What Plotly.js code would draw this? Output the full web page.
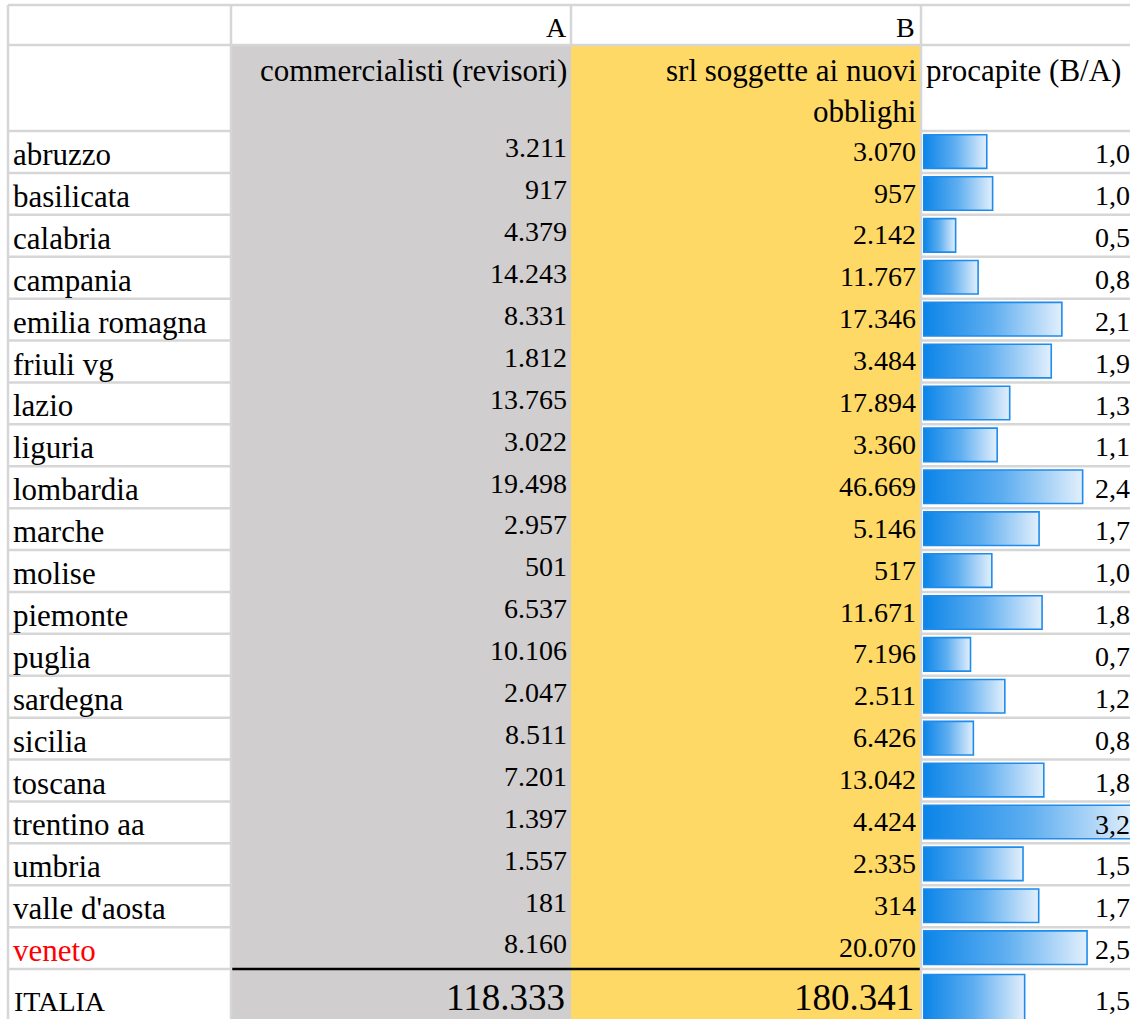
<!DOCTYPE html>
<html><head><meta charset="utf-8">
<script src="https://cdn.plot.ly/plotly-3.0.1.min.js"></script>
<style>html,body{margin:0;padding:0;background:#fff;overflow:hidden}#chart{width:1130px;height:1019px}</style>
</head><body><div id="chart"></div>
<script>
// ---- data ----
const regions = ['abruzzo','basilicata','calabria','campania','emilia romagna','friuli vg','lazio','liguria','lombardia','marche','molise','piemonte','puglia','sardegna','sicilia','toscana','trentino aa','umbria',"valle d'aosta",'veneto'];
const commercialisti = [3211,917,4379,14243,8331,1812,13765,3022,19498,2957,501,6537,10106,2047,8511,7201,1397,1557,181,8160];
const srl = [3070,957,2142,11767,17346,3484,17894,3360,46669,5146,517,11671,7196,2511,6426,13042,4424,2335,314,20070];
const totalLabel = 'ITALIA';
const columnLetters = ['A','B'];
const headerA = 'commercialisti (revisori)';
const headerB = ['srl soggette ai nuovi','obblighi'];
const headerC = 'procapite (B/A)';
const highlighted = 'veneto';

// ---- derived ----
const totA = commercialisti.reduce((a,b)=>a+b,0);
const totB = srl.reduce((a,b)=>a+b,0);
const ratios = regions.map((r,i)=>srl[i]/commercialisti[i]);
const totRatio = totB/totA;
const fmtInt = n => String(n).replace(/\B(?=(\d{3})+(?!\d))/g,'.');
const fmtDec = v => v.toFixed(1).replace('.',',');

// ---- layout helpers (pixel <-> row units) ----
const W=1130, H=1019, ROW=41.9, C0=152;
const py = p => (p - C0)/ROW;
const XL=8, XA=231, XB=571, XC=921, XE=1130;
const GRID='#d6d6d6', FONT='Liberation Serif';

const shapes=[];
const rect=(x0,x1,y0,y1,c)=>shapes.push({type:'rect',xref:'x',yref:'y',x0,x1,y0,y1,fillcolor:c,line:{width:0},layer:'below'});
const line=(x0,x1,y0,y1,c,w)=>shapes.push({type:'line',xref:'x',yref:'y',x0,x1,y0,y1,line:{color:c,width:w},layer:'below'});

rect(XA,XB,py(45),py(1030),'#d0cece');
rect(XB,XC,py(45),py(1030),'#ffd966');
line(XL,XE,py(5),py(5),GRID,2.5);
line(XL,XE,py(45),py(45),GRID,2.5);
for(let i=-1;i<regions.length;i++){
  const y=i+0.5;
  line(XL,XA,y,y,GRID,2.5);
  line(XC,XE,y,y,GRID,2.5);
}
line(XA,XC,regions.length-0.5,regions.length-0.5,'#000',2.5);
line(XL,XL,py(5),py(1030),GRID,2.5);
line(XA,XA,py(5),py(1030),GRID,2.5);
line(XB,XB,py(5),py(45),GRID,2.5);
line(XC,XC,py(5),py(1030),GRID,2.5);

const ann=[];
const txt=(text,x,y,xanchor,size,color,xshift)=>ann.push({text,x,y,xref:'x',yref:'y',xanchor,yanchor:'middle',xshift:xshift||0,showarrow:false,font:{family:FONT,size,color:color||'#000'}});

txt(columnLetters[0],XB-2,py(27),'right',28);
txt(columnLetters[1],XC-4,py(27),'right',28);
txt(headerA,XB-2,py(70),'right',31);
txt(headerB[0],XC-2,py(70),'right',31);
txt(headerB[1],XC-2,py(111),'right',31);
txt(headerC,XC+3,py(70),'left',31);

regions.forEach((r,i)=>{
  txt(r,11,i+0.06,'left',31,r===highlighted?'#ff0000':'#000');
  txt(fmtInt(commercialisti[i]),XB-2,i-0.1,'right',28);
  txt(fmtInt(srl[i]),XC-3,i-0.02,'right',28);
  txt(fmtDec(ratios[i]),W,i+0.04,'right',28,null,2);
});
const n=regions.length;
txt(totalLabel,12,py(1001),'left',28);
txt(fmtInt(totA),XB-4,py(997),'right',37);
txt(fmtInt(totB),XC-5,py(997),'right',37);
txt(fmtDec(totRatio),W,py(1000),'right',28,null,2);

const yIdx = regions.map((r,i)=>i).concat([n]);
const barTrace = {
  type:'bar', orientation:'h', xaxis:'x2', yaxis:'y',
  x: ratios.concat([totRatio]), y: yIdx,
  width: regions.map(()=>0.8).concat([1.4]),
  offset: regions.map(()=>-0.41).concat([-0.37]),
  marker:{color:'#0b85e8', line:{color:'#1e8cec', width:1.6}},
  hoverinfo:'skip'
};

const layout = {
  width:W, height:H, margin:{l:0,r:0,t:0,b:0}, paper_bgcolor:'#fff', plot_bgcolor:'rgba(0,0,0,0)',
  showlegend:false,
  xaxis:{range:[0,W],domain:[0,1],visible:false,fixedrange:true},
  xaxis2:{range:[0,(W-923)/66.7],domain:[923/W,1],anchor:'y',visible:false,fixedrange:true},
  yaxis:{range:[py(H),py(0)],domain:[0,1],visible:false,fixedrange:true},
  shapes, annotations:ann, bargap:0
};

Plotly.newPlot('chart',[barTrace],layout,{staticPlot:true,displayModeBar:false}).then(gd=>{
  const svg = gd.querySelector('.main-svg');
  const NS='http://www.w3.org/2000/svg';
  let defs = svg.querySelector('defs');
  if(!defs){defs=document.createElementNS(NS,'defs');svg.insertBefore(defs,svg.firstChild);}
  const g=document.createElementNS(NS,'linearGradient');
  g.setAttribute('id','bargrad');g.setAttribute('x1','0');g.setAttribute('x2','1');g.setAttribute('y1','0');g.setAttribute('y2','0');
  [['0','#0a84e8'],['0.5','#5eaef0'],['1','#e2effc']].forEach(([o,c])=>{
    const s=document.createElementNS(NS,'stop');s.setAttribute('offset',o);s.setAttribute('stop-color',c);g.appendChild(s);
  });
  defs.appendChild(g);
  gd.querySelectorAll('.barlayer .point path').forEach(p=>{p.style.fill='url(#bargrad)';p.style.fillOpacity='1';});
});
</script></body></html>
